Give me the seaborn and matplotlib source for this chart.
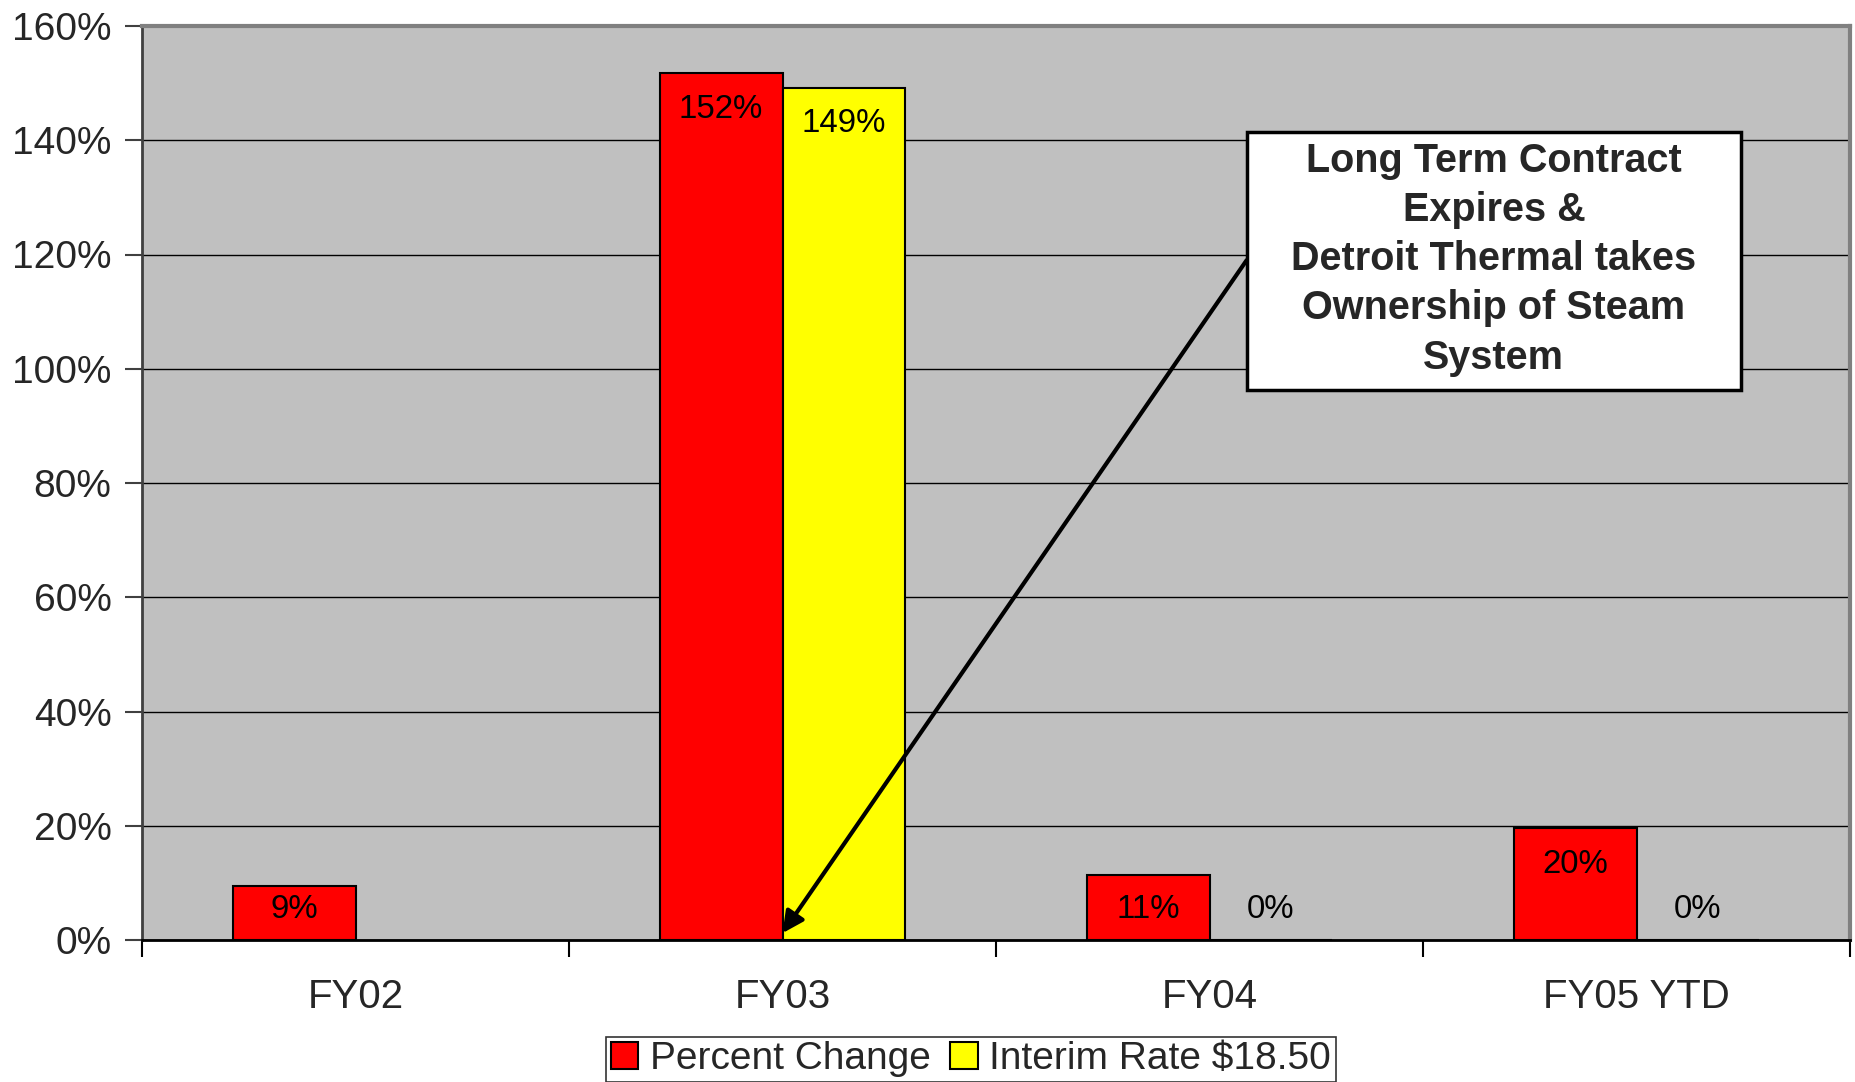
import matplotlib
matplotlib.use("Agg")
import matplotlib.pyplot as plt
from matplotlib.patches import Rectangle
from matplotlib.ticker import FixedLocator, FuncFormatter
import numpy as np
import pandas as pd
import seaborn as sns

# Fiscal-year steam rate changes
categories = ["FY02", "FY03", "FY04", "FY05 YTD"]
series_names = ["Percent Change", "Interim Rate $18.50"]
percent_change = [9.4, 151.7, 11.4, 19.6]
interim_rate = [np.nan, 149.2, 0.0, 0.0]
series_colors = ["#FF0000", "#FFFF00"]
y_ticks = [0, 20, 40, 60, 80, 100, 120, 140, 160]
note_text = ("Long Term Contract\nExpires &\nDetroit Thermal takes\n"
             "Ownership of Steam\nSystem")

df = pd.DataFrame({
    "Year": categories * 2,
    "Series": [series_names[0]] * len(categories) + [series_names[1]] * len(categories),
    "Value": percent_change + interim_rate,
})

sns.set_style("white")
plt.rcParams["font.family"] = ["Liberation Sans", "DejaVu Sans"]

W, H = 1855, 1082
fig = plt.figure(figsize=(W / 100, H / 100), dpi=100)
ax = fig.add_axes([142 / W, 1 - 940 / H, (1850 - 142) / W, (940 - 26) / H])
ax.set_facecolor("#C0C0C0")

sns.barplot(data=df, x="Year", y="Value", hue="Series", order=categories,
            hue_order=series_names, palette=dict(zip(series_names, series_colors)),
            width=0.576, errorbar=None, edgecolor="black", linewidth=1.5,
            saturation=1, ax=ax)

# value labels just inside the top of each bar
for container in ax.containers:
    for bar in container:
        h = bar.get_height()
        if np.isnan(h):
            continue
        cx = bar.get_x() + bar.get_width() / 2
        ly = max(h - 6.3, 5.3)
        ax.text(cx, ly, f"{h:.0f}%", ha="center", va="center",
                fontsize=23.8, color="black", zorder=5)

ax.set_ylim(0, 160)
ax.set_xlim(-0.5, len(categories) - 0.5)
ax.yaxis.set_major_locator(FixedLocator(y_ticks))
ax.yaxis.set_major_formatter(FuncFormatter(lambda v, p: f"{v:.0f}%"))
ax.grid(axis="y", color="black", linewidth=1)
ax.set_axisbelow(True)

ax.set_xticks(range(len(categories)))
ax.set_xticklabels(categories)
ax.set_xticks(np.arange(-0.5, len(categories)), minor=True)
ax.tick_params(axis="x", which="major", length=0, pad=27, labelsize=29)
ax.tick_params(axis="x", which="minor", length=12, width=1.5, color="black",
               direction="out", bottom=True)
ax.tick_params(axis="y", length=12, width=1.5, color="#404040", direction="out",
               left=True, pad=10, labelsize=28)
ax.set_xlabel("")
ax.set_ylabel("")

for side in ["top", "right"]:
    ax.spines[side].set_color("#808080")
    ax.spines[side].set_linewidth(3)
ax.spines["left"].set_color("#404040")
ax.spines["left"].set_linewidth(2)
ax.spines["bottom"].set_color("black")
ax.spines["bottom"].set_linewidth(2)

# callout box with arrow pointing at FY03
ax.add_patch(Rectangle((2.087, 96.3), 1.158, 45.1, facecolor="white",
                       edgecolor="black", linewidth=2.5, zorder=6))
ax.text(2.087 + 1.158 / 2, 96.3 + 45.1 / 2 + 0.3, note_text, ha="center", va="center",
        fontsize=28.5, fontweight="bold", linespacing=1.37, zorder=7)
ax.annotate("", xy=(1.0, 1.2), xytext=(2.087, 119.0),
            arrowprops=dict(arrowstyle="-|>", lw=3, color="black",
                            mutation_scale=32, shrinkA=0, shrinkB=0), zorder=6)

# compact legend sitting on the bottom edge of the figure
handles, labels = ax.get_legend_handles_labels()
ax.get_legend().remove()
leg = ax.legend(handles, labels, loc="lower center", ncol=2,
                bbox_to_anchor=(971 / W, 0.0), bbox_transform=fig.transFigure,
                frameon=True, fancybox=False, edgecolor="black", fontsize=28,
                handlelength=0.7, handleheight=0.7, handletextpad=0.3,
                columnspacing=0.5, borderpad=0.12, borderaxespad=0)
leg.get_frame().set_linewidth(1.2)
for hnd in leg.legend_handles:
    hnd.set_edgecolor("black")
    hnd.set_linewidth(1.5)

fig.savefig("out.png", dpi=100, facecolor="white")
